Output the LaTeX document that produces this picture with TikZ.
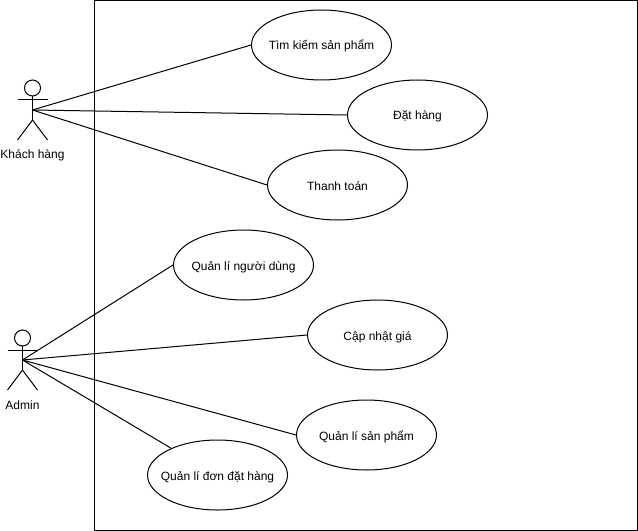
\documentclass[tikz,border=0pt]{standalone}
\usepackage{fontspec}
\setmainfont{Liberation Sans}
\usetikzlibrary{shapes.geometric}
\tikzset{
  usecase/.style={draw=black,fill=white,ellipse,minimum width=105pt,minimum height=52.5pt,inner sep=0pt,line width=0.75pt},
  assoc/.style={draw=black,line width=0.75pt},
  stick/.style={draw=black,line width=0.75pt},
  actorlabel/.style={font=\fontsize{9}{11}\selectfont,inner sep=0pt}
}
\newcommand{\uctext}[1]{\makebox[0pt][c]{\smash{\raisebox{-3.75pt}{\fontsize{9}{11}\selectfont #1}}}}
\begin{document}
\begin{tikzpicture}[x=0.75pt,y=-0.75pt]
\useasboundingbox (0,0) rectangle (638,531);
\fill[white] (0,0) rectangle (638,531);
\draw[stick] (94.5,0.5) rectangle (637.5,530);
% actor 1
\coordinate (a1) at (32.5,110);
\draw[stick] (32.5,88) circle (8);
\draw[stick] (32.5,96) -- (32.5,120);
\draw[stick] (17.5,100) -- (47.5,100);
\draw[stick] (32.5,120) -- (17.5,140);
\draw[stick] (32.5,120) -- (47.5,140);
\node[actorlabel] (l1) at (32.5,155) {Khách hàng};
% actor 2
\coordinate (a2) at (22.5,360);
\draw[stick] (22.5,338) circle (8);
\draw[stick] (22.5,346) -- (22.5,370);
\draw[stick] (7.5,350) -- (37.5,350);
\draw[stick] (22.5,370) -- (7.5,390);
\draw[stick] (22.5,370) -- (37.5,390);
\node[actorlabel] (l2) at (22.5,405) {Admin};
% use cases
\node[usecase] (u1) at (321.5,45) {\uctext{Tìm kiếm sản phẩm}};
\node[usecase] (u2) at (417.5,115) {\uctext{Đặt hàng}};
\node[usecase] (u3) at (337.5,185) {\uctext{Thanh toán}};
\node[usecase] (u4) at (243.5,265) {\uctext{Quản lí người dùng}};
\node[usecase] (u5) at (377.5,335) {\uctext{Cập nhật giá}};
\node[usecase] (u6) at (366.5,435) {\uctext{Quản lí sản phẩm}};
\node[usecase] (u7) at (217.5,475) {\uctext{Quản lí đơn đặt hàng}};
\draw[assoc] (a1) -- (u1.west);
\draw[assoc] (a1) -- (u2.west);
\draw[assoc] (a1) -- (u3.west);
\draw[assoc] (a2) -- (u4.west);
\draw[assoc] (a2) -- (u5.west);
\draw[assoc] (a2) -- (u6.west);
\draw[assoc] (a2) -- (u7.150);
\end{tikzpicture}
\end{document}
